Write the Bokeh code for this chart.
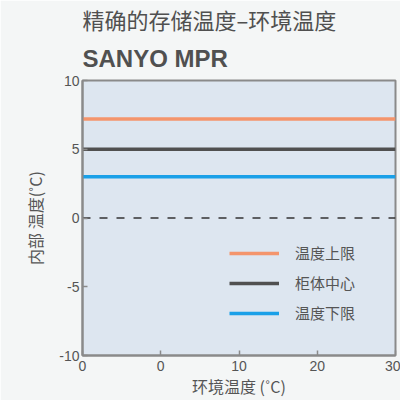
from bokeh.plotting import figure
from bokeh.models import Title, Legend, LegendItem, FixedTicker, Range1d
from bokeh.embed import file_html
from bokeh.resources import INLINE

ambient = [-10, 30]
upper = [7.2, 7.2]
center = [5, 5]
lower = [3, 3]
zero = [0, 0]
x_ticks = [-10, 0, 10, 20, 30]
x_tick_labels = {-10: "0"}
y_ticks = [-10, -5, 0, 5, 10]
y_tick_labels = {-10: "-10", -5: "-5"}
series_names = ["温度上限", "柜体中心", "温度下限"]
title_text = "精确的存储温度–环境温度"
subtitle_text = "SANYO MPR"

CJK = "Noto Sans CJK SC"
LAT = "Liberation Sans"
GRAY = "#555555"

p = figure(width=400, height=400, output_backend="svg", toolbar_location=None,
           x_range=Range1d(-10, 30), y_range=Range1d(-10, 10),
           min_border_left=82, min_border_right=5, min_border_bottom=40, min_border_top=80,
           background_fill_color="#dde6f0", border_fill_color="#f4f6f6")
p.title.visible = False

t2 = Title(text=subtitle_text, text_font=LAT, text_font_size="24px", text_font_style="bold",
           text_color="#505050", align="left", offset=0, standoff=17, text_line_height=1.0)
t1 = Title(text=title_text, text_font=CJK, text_font_size="22px",
           text_font_style="normal", text_color="#505050", align="left", offset=0, standoff=0,
           text_line_height=1.0)
p.add_layout(t2, "above")
p.add_layout(t1, "above")

p.grid.visible = False
p.outline_line_color = "#8a8a8a"
p.outline_line_width = 2

for ax in (p.xaxis[0], p.yaxis[0]):
    ax.axis_line_color = "#8a8a8a"
    ax.axis_line_width = 2
    ax.major_tick_in = 5
    ax.major_tick_out = 0
    ax.major_tick_line_color = "#8a8a8a"
    ax.major_tick_line_width = 1.5
    ax.minor_tick_line_color = None
    ax.major_label_text_font = LAT
    ax.major_label_text_font_size = "14px"
    ax.major_label_text_color = GRAY
    ax.axis_label_text_font = CJK
    ax.axis_label_text_font_size = "16px"
    ax.axis_label_text_font_style = "normal"
    ax.axis_label_text_color = GRAY

p.xaxis.ticker = FixedTicker(ticks=x_ticks)
p.xaxis.major_label_overrides = x_tick_labels
p.xaxis.axis_label = "环境温度 (˚C)"
p.xaxis.axis_label_standoff = 0
p.xaxis.major_label_standoff = 5
p.yaxis.ticker = FixedTicker(ticks=y_ticks)
p.yaxis.major_label_overrides = y_tick_labels
p.yaxis.axis_label = "内部 温度(˚C)"
p.yaxis.axis_label_standoff = 9
p.yaxis.major_label_standoff = 3

p.line(ambient, zero, line_color="#333333", line_width=1.5, line_dash="8 9")
r1 = p.line(ambient, upper, line_color="#f4956c", line_width=3.5)
r2 = p.line(ambient, center, line_color="#505050", line_width=3.5)
r3 = p.line(ambient, lower, line_color="#1aa0e8", line_width=3.5)

legend = Legend(items=[LegendItem(label=series_names[0], renderers=[r1]),
                       LegendItem(label=series_names[1], renderers=[r2]),
                       LegendItem(label=series_names[2], renderers=[r3])],
                location=(147, 32), padding=0, margin=0, spacing=9,
                glyph_width=50, glyph_height=20, label_height=20, label_standoff=16,
                border_line_color=None, background_fill_alpha=0,
                label_text_font=CJK, label_text_font_size="15px", label_text_color=GRAY)
p.add_layout(legend)

open("out.html", "w").write(file_html(p, INLINE))
